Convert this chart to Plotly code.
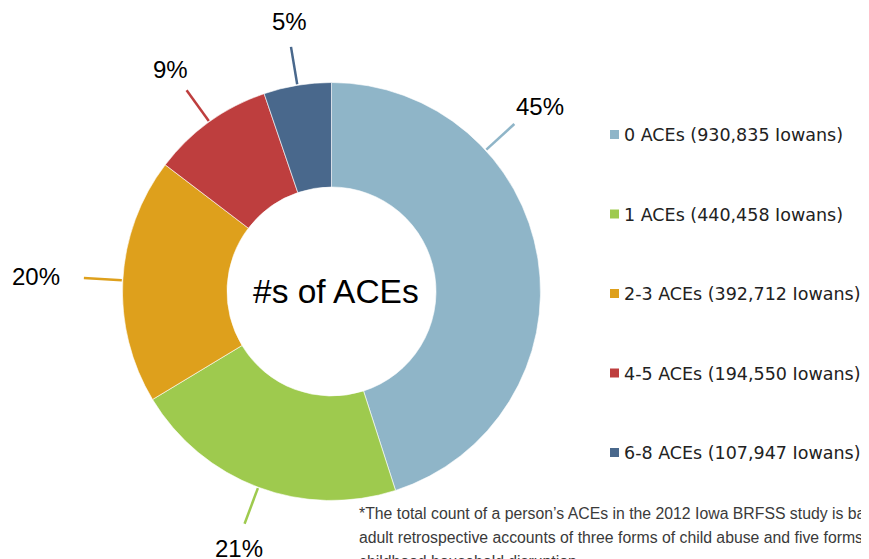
import math
import plotly.graph_objects as go

# data
labels = ["0 ACEs", "1 ACEs", "2-3 ACEs", "4-5 ACEs", "6-8 ACEs"]
counts = [930835, 440458, 392712, 194550, 107947]
pct_text = ["45%", "21%", "20%", "9%", "5%"]
colors = ["rgb(143,181,200)", "rgb(158,202,78)", "rgb(222,160,28)", "rgb(190,62,62)", "rgb(73,104,140)"]
center_text = "#s of ACEs"
footnote = [
    "*The total count of a person\u2019s ACEs in the 2012 Iowa BRFSS study is based on",
    "adult retrospective accounts of three forms of child abuse and five forms of",
    "childhood household disruption.",
]

# geometry, in window pixels; the page body has an 8px margin
OFF = 8
W, H = 869 - OFF, 559 - OFF
cx, cy, R = 331.5, 291.5, 209
label_angle_override = {0: 47.5}   # Excel nudged the 45% label up


def px(x, y):
    return (x - OFF) / W, 1 - (y - OFF) / H


fig = go.Figure()
d0 = px(cx - R, cy + R)
d1 = px(cx + R, cy - R)
fig.add_trace(go.Pie(
    values=counts, labels=labels, sort=False, direction="clockwise", rotation=0,
    hole=0.5, textinfo="none", hoverinfo="label+value+percent",
    marker=dict(colors=colors, line=dict(color="white", width=0.6)),
    domain=dict(x=[d0[0], d1[0]], y=[d0[1], d1[1]]),
    showlegend=False,
))

shapes = []
annotations = []
total = sum(counts)
cum = 0
for i, v in enumerate(counts):
    ang = 360 * (cum + v / 2) / total
    cum += v
    ang = label_angle_override.get(i, ang)
    s, c = math.sin(math.radians(ang)), math.cos(math.radians(ang))
    ex, ey = cx + 248 * s, cy - 248 * c
    x0, y0 = px(cx + (R + 1) * s, cy - (R + 1) * c)
    x1, y1 = px(ex, ey)
    shapes.append(dict(type="line", xref="paper", yref="paper", x0=x0, y0=y0, x1=x1, y1=y1,
                       line=dict(color=colors[i], width=2.5)))
    lx, ly = px(ex + s * abs(s) * 48, ey - c * 26)
    annotations.append(dict(x=lx, y=ly, xref="paper", yref="paper", text=pct_text[i],
                            showarrow=False, xanchor="center", yanchor="middle",
                            font=dict(family="Liberation Sans", size=24, color="black")))

# centre label
cxp, cyp = px(cx + 4, cy)
annotations.append(dict(x=cxp, y=cyp, xref="paper", yref="paper", text=center_text, showarrow=False,
                        xanchor="center", yanchor="middle",
                        font=dict(family="Liberation Sans", size=33.5, color="black")))

# legend, drawn by hand to get Excel's spacing
for i, lab in enumerate(labels):
    ry = 134.5 + i * 79.5
    a0, b0 = px(610, ry + 4.5)
    a1, b1 = px(619, ry - 4.5)
    shapes.append(dict(type="rect", xref="paper", yref="paper", x0=a0, y0=b0, x1=a1, y1=b1,
                       fillcolor=colors[i], line=dict(width=0)))
    tx, ty = px(622, ry + 0.5)
    annotations.append(dict(x=tx, y=ty, xref="paper", yref="paper",
                            text=f"{lab} ({counts[i]:,} Iowans)", showarrow=False,
                            xanchor="left", yanchor="middle",
                            font=dict(family="DejaVu Sans", size=17.5, color="#222222")))

# footnote
for j, line in enumerate(footnote):
    fx, fy = px(357, 513 + j * 24)
    annotations.append(dict(x=fx, y=fy, xref="paper", yref="paper", text=line, showarrow=False,
                            xanchor="left", yanchor="middle",
                            font=dict(family="Liberation Sans", size=15.8, color="#3a3a3a")))

fig.update_layout(width=W, height=H, margin=dict(l=0, r=0, t=0, b=0),
                  paper_bgcolor="white", plot_bgcolor="white",
                  shapes=shapes, annotations=annotations, showlegend=False)
fig.write_html("out.html")
